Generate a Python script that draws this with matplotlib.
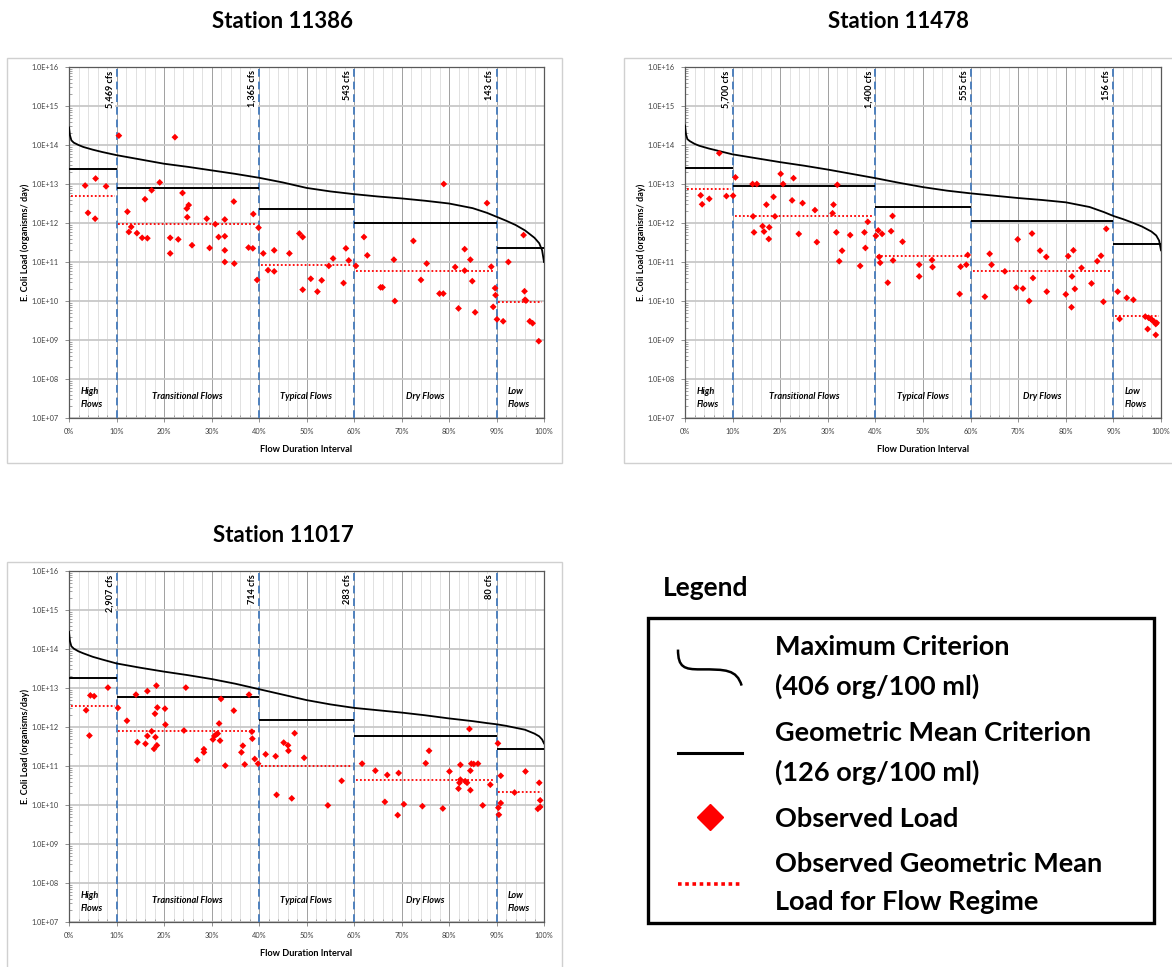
import numpy as np
import matplotlib
matplotlib.use('Agg')
import matplotlib.pyplot as plt
from matplotlib.legend_handler import HandlerBase
from matplotlib.lines import Line2D
from matplotlib.patches import PathPatch, Rectangle
from matplotlib.path import Path
from matplotlib.ticker import FixedLocator, FuncFormatter, LogLocator, MultipleLocator, NullFormatter

plt.rcParams['font.family'] = ['Lato', 'DejaVu Sans']

W, H = 1172, 967

# flow regimes (percent of time flow is exceeded)
regime_edges = [0, 10, 40, 60, 90, 100]
regime_names = ['High\nFlows', 'Transitional Flows', 'Typical Flows', 'Dry Flows', 'Low\nFlows']

# points where the maximum criterion curve was read (flow duration %)
curve_pct = [0, 0.2, 0.5, 1, 2, 3, 5, 7, 10, 15, 20, 25, 30, 35, 40, 45, 50, 55, 60,
             65, 70, 75, 80, 85, 88, 90, 92, 94, 96, 98, 99, 99.6, 100]

# ---- Station 11386 (loads as log10 organisms/day)
s11386_curve = [14.45, 14.25, 14.12, 14.06, 14.00, 13.95, 13.88, 13.82, 13.74, 13.63, 13.52,
                13.44, 13.35, 13.26, 13.16, 13.04, 12.90, 12.81, 12.74, 12.68, 12.63, 12.57,
                12.50, 12.38, 12.26, 12.16, 12.06, 11.95, 11.81, 11.62, 11.48, 11.30, 11.00]
s11386_gm_crit = [13.38, 12.91, 12.37, 11.99, 11.37]
s11386_obs_gm = [12.68, 11.97, 10.93, 10.77, 9.98]
s11386_cfs = ['5,469 cfs', '1,365 cfs', '543 cfs', '143 cfs']
s11386_pct = [3.4, 4.0, 5.6, 5.5, 7.8, 10.5, 12.3, 12.6, 13.1, 14.3,
              15.4, 16.0, 16.5, 17.4, 19.1, 21.3, 21.3, 22.3, 23.0, 23.9,
              24.8, 25.2, 24.9, 25.9, 29.0, 29.6, 30.8, 31.5, 32.8, 32.8,
              32.8, 32.8, 34.7, 34.8, 37.8, 38.7, 38.8, 39.6, 39.9, 40.9,
              41.9, 43.2, 43.2, 46.4, 48.5, 49.2, 49.2, 50.9, 52.3, 53.2,
              54.7, 55.6, 57.8, 58.3, 58.9, 60.4, 62.1, 62.8, 65.6, 66.0,
              68.4, 68.6, 72.5, 74.1, 75.3, 78.0, 78.8, 78.9, 81.3, 82.0,
              83.3, 83.3, 84.5, 84.9, 85.5, 88.0, 88.9, 89.3, 89.7, 89.8,
              90.1, 91.4, 92.5, 95.7, 95.9, 96.0, 96.2, 97.0, 97.6, 98.9]
s11386_load = [12.96, 12.26, 13.14, 12.11, 12.94, 14.24, 12.29, 11.77, 11.90, 11.74,
               11.62, 12.61, 11.61, 12.84, 13.04, 11.62, 11.22, 14.20, 11.58, 12.77,
               12.37, 12.46, 12.15, 11.43, 12.11, 11.36, 11.97, 11.64, 11.66, 12.09,
               11.30, 11.00, 12.55, 10.96, 11.37, 11.35, 12.23, 10.54, 11.88, 11.22,
               10.79, 11.30, 10.76, 11.22, 11.73, 11.64, 10.29, 10.57, 10.24, 10.53,
               10.90, 11.09, 10.46, 11.35, 11.04, 10.90, 11.64, 11.17, 10.35, 10.35,
               11.06, 10.00, 11.54, 10.54, 10.96, 10.19, 10.19, 13.00, 10.87, 9.81,
               11.33, 10.78, 11.06, 10.51, 9.71, 12.51, 10.88, 9.85, 10.33, 10.15,
               9.53, 9.48, 11.00, 11.69, 10.25, 10.03, 10.01, 9.48, 9.43, 8.97]

# ---- Station 11478
s11478_curve = [14.50, 14.28, 14.15, 14.10, 14.03, 13.98, 13.91, 13.85, 13.76, 13.66, 13.56,
                13.47, 13.37, 13.26, 13.15, 13.03, 12.92, 12.83, 12.76, 12.70, 12.64, 12.59,
                12.53, 12.41, 12.28, 12.18, 12.10, 12.01, 11.91, 11.78, 11.68, 11.55, 11.30]
s11478_gm_crit = [13.40, 12.94, 12.40, 12.04, 11.46]
s11478_obs_gm = [12.86, 12.17, 11.16, 10.76, 9.62]
s11478_cfs = ['5,700 cfs', '1,400 cfs', '555 cfs', '156 cfs']
s11478_pct = [3.3, 3.6, 5.1, 7.2, 8.7, 10.1, 10.6, 14.2, 15.1, 14.3,
              14.5, 16.3, 16.6, 17.7, 17.6, 17.1, 18.6, 18.9, 20.1, 20.6,
              22.5, 22.8, 23.9, 24.7, 27.3, 27.7, 31.0, 31.2, 31.8, 32.0,
              32.4, 33.0, 34.7, 36.8, 37.7, 37.9, 38.4, 40.1, 40.6, 40.8,
              41.0, 41.4, 42.6, 43.3, 43.6, 43.7, 45.7, 49.2, 49.2, 51.9,
              52.0, 57.7, 57.9, 59.1, 59.4, 63.0, 64.0, 64.4, 67.2, 69.6,
              69.9, 71.0, 72.3, 72.9, 73.1, 74.6, 75.9, 76.0, 80.0, 80.5,
              81.2, 81.3, 81.6, 81.9, 83.3, 85.4, 86.6, 87.4, 87.9, 88.5,
              90.9, 91.3, 92.8, 94.2, 96.7, 97.2, 97.4, 97.9, 98.2, 98.5,
              98.9, 98.9, 99.1]
s11478_load = [12.71, 12.48, 12.62, 13.79, 12.69, 12.70, 13.17, 13.00, 13.00, 12.17,
               11.76, 11.92, 11.78, 11.89, 11.59, 12.47, 12.67, 12.17, 13.26, 13.00,
               12.58, 13.15, 11.72, 12.51, 12.33, 11.51, 12.25, 12.47, 11.76, 12.98,
               11.02, 11.29, 11.69, 10.90, 11.76, 11.36, 12.03, 11.67, 11.81, 11.13,
               10.98, 11.72, 10.47, 11.79, 12.18, 11.04, 11.52, 10.93, 10.63, 11.05,
               10.87, 10.18, 10.88, 10.93, 11.18, 10.11, 11.21, 10.93, 10.76, 10.34,
               11.58, 10.32, 10.00, 11.73, 10.59, 11.29, 11.13, 10.24, 10.17, 11.15,
               9.84, 10.63, 11.30, 10.31, 10.85, 10.45, 11.02, 11.16, 9.98, 11.85,
               10.24, 9.54, 10.08, 10.03, 9.60, 9.28, 9.57, 9.54, 9.50, 9.48,
               9.41, 9.13, 9.44]

# ---- Station 11017
s11017_curve = [14.44, 14.20, 14.07, 14.01, 13.94, 13.89, 13.80, 13.73, 13.63, 13.52, 13.42,
                13.33, 13.23, 13.11, 12.97, 12.83, 12.69, 12.58, 12.49, 12.43, 12.37, 12.30,
                12.22, 12.15, 12.10, 12.07, 12.03, 11.98, 11.93, 11.83, 11.76, 11.68, 11.58]
s11017_gm_crit = [13.26, 12.78, 12.19, 11.77, 11.43]
s11017_obs_gm = [12.55, 11.90, 11.00, 10.65, 10.34]
s11017_cfs = ['2,907 cfs', '714 cfs', '283 cfs', '80 cfs']
s11017_pct = [3.6, 4.3, 4.5, 5.3, 8.2, 10.3, 12.2, 14.1, 14.4, 16.1,
              16.5, 16.5, 17.4, 18.1, 18.2, 17.9, 18.4, 18.6, 18.5, 20.2,
              20.3, 24.2, 24.6, 27.0, 28.4, 28.4, 30.3, 30.6, 31.0, 31.3,
              31.6, 31.8, 32.0, 32.9, 34.7, 36.3, 36.6, 37.0, 37.9, 38.5,
              38.6, 39.1, 39.8, 41.4, 43.5, 43.7, 45.2, 46.1, 46.2, 46.9,
              47.5, 49.5, 54.5, 57.4, 61.7, 64.5, 66.5, 67.0, 69.2, 69.4,
              70.5, 74.4, 75.1, 75.8, 78.7, 80.1, 82.0, 82.2, 82.4, 82.4,
              83.4, 83.8, 84.3, 84.5, 84.5, 84.7, 85.2, 86.1, 87.1, 88.7,
              90.3, 90.4, 90.5, 90.9, 90.9, 93.8, 96.1, 99.0, 98.7, 99.2,
              99.2]
s11017_load = [12.43, 11.78, 12.81, 12.79, 13.01, 12.49, 12.16, 12.83, 11.61, 11.57,
               12.92, 11.77, 11.89, 12.34, 11.74, 11.44, 13.06, 12.50, 11.53, 12.47,
               12.06, 11.91, 13.01, 11.15, 11.43, 11.35, 11.68, 11.77, 11.81, 11.83,
               12.09, 11.65, 12.72, 11.01, 12.42, 11.35, 11.52, 11.04, 12.83, 11.88,
               11.70, 11.18, 11.06, 11.30, 11.25, 10.26, 11.60, 11.53, 11.39, 10.17,
               11.84, 11.21, 9.99, 10.62, 11.06, 10.88, 10.08, 10.77, 9.74, 10.82,
               10.02, 9.97, 11.07, 11.39, 9.91, 10.86, 10.42, 10.57, 10.65, 11.03,
               10.61, 10.57, 11.95, 10.88, 10.38, 11.06, 11.05, 11.06, 9.99, 10.52,
               11.58, 9.93, 9.75, 10.05, 10.75, 10.32, 10.86, 10.57, 9.90, 10.12,
               9.95]

BLUE = '#4F81BD'
GRAY_TXT = '#404040'


def add_px_axes(fig, left, top, right, bottom):
    """Ejes ubicados con coordenadas en pixeles (origen arriba a la izquierda)."""
    return fig.add_axes([left / W, 1 - bottom / H, (right - left) / W, (bottom - top) / H])


def draw_station(ax, curve, gm_crit, obs_gm, cfs, pct, load, ylabel):
    ax.set_yscale('log')
    ax.set_xlim(0, 100)
    ax.set_ylim(1e7, 1e16)

    # grid
    ax.xaxis.set_major_locator(MultipleLocator(10))
    ax.xaxis.set_minor_locator(MultipleLocator(2))
    ax.yaxis.set_major_locator(FixedLocator([10.0 ** k for k in range(7, 17)]))
    ax.yaxis.set_minor_locator(LogLocator(base=10, subs=np.arange(2, 10), numticks=20))
    ax.yaxis.set_minor_formatter(NullFormatter())
    ax.grid(axis='y', which='major', color='#C8C8C8', lw=1.3, zorder=0)
    ax.grid(axis='x', which='major', color='#A0A0A0', lw=0.7, zorder=0)
    ax.grid(axis='x', which='minor', color='#DCDCDC', lw=0.6, zorder=0)
    ax.set_axisbelow(True)

    ax.xaxis.set_major_formatter(FuncFormatter(lambda v, _: f'{int(round(v))}%'))
    ax.yaxis.set_major_formatter(FuncFormatter(lambda v, _: f'1.0E+{int(round(np.log10(v))):02d}'))
    ax.tick_params(axis='both', which='major', direction='out', length=3, width=0.6,
                   labelsize=5.3, labelcolor=GRAY_TXT, color='#7F7F7F', pad=4.5)
    ax.tick_params(axis='both', which='minor', direction='in', length=2, width=0.5,
                   color='#7F7F7F')
    for sp in ax.spines.values():
        sp.set_color('#595959')
        sp.set_linewidth(0.9)

    # max criterion (flow duration curve)
    ax.plot(curve_pct, 10.0 ** np.array(curve), color='black', lw=1.3, zorder=4)

    # geometric mean criterion + observed geometric mean per regime
    for i in range(5):
        lo, hi = regime_edges[i], regime_edges[i + 1]
        ax.hlines(10.0 ** gm_crit[i], lo, hi, color='black', lw=1.4, zorder=4)
        ax.hlines(10.0 ** obs_gm[i], lo + 0.4, hi - 0.4, color='red', lw=1.3,
                  linestyles=(0, (1, 1.2)), zorder=4)

    # observed loads
    ax.scatter(pct, 10.0 ** np.array(load), marker='D', s=12, color='red',
               edgecolors='none', zorder=5)

    # regime boundaries with flow labels
    for x, lab in zip(regime_edges[1:-1], cfs):
        ax.axvline(x, color=BLUE, lw=1.4, ls=(0, (4, 2.5)), zorder=3)
        ax.annotate(lab, xy=(x, 1), xycoords=('data', 'axes fraction'),
                    xytext=(-1.5, -2.5), textcoords='offset points',
                    rotation=90, ha='right', va='top', fontsize=6.6, fontweight='bold',
                    bbox=dict(facecolor='white', edgecolor='none', pad=0.6), zorder=6)

    # regime names
    for i, name in enumerate(regime_names):
        lo, hi = regime_edges[i], regime_edges[i + 1]
        if '\n' in name:
            ax.text(lo + 2.4, 10 ** 7.51, name, ha='left', va='center', fontsize=6.6,
                    fontweight='bold', fontstyle='italic', linespacing=1.6)
        else:
            ax.text((lo + hi) / 2, 10 ** 7.54, name, ha='center', va='center',
                    fontsize=6.6, fontweight='bold', fontstyle='italic')

    ax.set_xlabel('Flow Duration Interval', fontsize=6.6, fontweight='bold')
    ax.set_ylabel(ylabel, fontsize=6.6, fontweight='bold')
    ax.xaxis.set_label_coords(0.5, -0.078)
    ax.yaxis.set_label_coords(-0.082, 0.5)


class HookHandler(HandlerBase):
    """Dibuja el simbolo en forma de curva para el criterio maximo."""

    def create_artists(self, legend, orig_handle, xdescent, ydescent, width, height,
                       fontsize, trans):
        x0, y0 = -xdescent, -ydescent
        h = height * 1.9
        yb = y0 + height / 2 - h / 2
        verts = [(0.0, 1.0), (0.0, 0.5), (0.1, 0.45), (0.35, 0.45),
                 (0.75, 0.45), (0.92, 0.45), (1.0, 0.0)]
        verts = [(x0 + vx * width, yb + vy * h) for vx, vy in verts]
        codes = [Path.MOVETO] + [Path.CURVE4] * 6
        patch = PathPatch(Path(verts, codes), fill=False, edgecolor=orig_handle.get_color(),
                          lw=orig_handle.get_linewidth(), transform=trans)
        return [patch]


fig = plt.figure(figsize=(W / 100, H / 100), dpi=100)

# chart-area frames
for (l, t, r, b) in [(7, 58, 562, 463), (624, 58, 1180, 463), (7, 562, 562, 980)]:
    fig.patches.append(Rectangle((l / W, 1 - b / H), (r - l) / W, (b - t) / H,
                                 transform=fig.transFigure, fill=False,
                                 edgecolor='#D0D0D0', lw=1.0))

ax1 = add_px_axes(fig, 69, 67, 544, 418)
ax2 = add_px_axes(fig, 685, 67, 1161, 418)
ax3 = add_px_axes(fig, 69, 571, 544, 922)

draw_station(ax1, s11386_curve, s11386_gm_crit, s11386_obs_gm, s11386_cfs,
             s11386_pct, s11386_load, 'E. Coli Load (organisms/ day)')
draw_station(ax2, s11478_curve, s11478_gm_crit, s11478_obs_gm, s11478_cfs,
             s11478_pct, s11478_load, 'E. Coli Load (organisms/ day)')
draw_station(ax3, s11017_curve, s11017_gm_crit, s11017_obs_gm, s11017_cfs,
             s11017_pct, s11017_load, 'E. Coli Load (organisms/day)')

title_kw = dict(ha='center', va='center', fontsize=16, fontweight='bold')
fig.text(283 / W, 1 - 21 / H, 'Station 11386', **title_kw)
fig.text(898 / W, 1 - 21 / H, 'Station 11478', **title_kw)
fig.text(283 / W, 1 - 535 / H, 'Station 11017', **title_kw)

# legend: title outside, frame drawn on its own
fig.text(663 / W, 1 - 588 / H, 'Legend', ha='left', va='center', fontsize=19,
         fontweight='bold')
fig.patches.append(Rectangle((648 / W, 1 - 923 / H), (1154 - 648) / W, (923 - 618) / H,
                             transform=fig.transFigure, fill=False,
                             edgecolor='black', lw=2.4))

h_max = Line2D([], [], color='black', lw=1.8)
h_gm = Line2D([], [], color='black', lw=2.2)
h_obs = Line2D([], [], color='red', marker='D', ls='none', markersize=13)
h_obsgm = Line2D([], [], color='red', lw=2.6, ls=(0, (1, 1)))
labels = ['Maximum Criterion\n(406 org/100 ml)',
          'Geometric Mean Criterion\n(126 org/100 ml)',
          'Observed Load',
          'Observed Geometric Mean\nLoad for Flow Regime']
leg = fig.legend([h_max, h_gm, h_obs, h_obsgm], labels,
                 handler_map={h_max: HookHandler()},
                 loc='upper left', borderaxespad=0, borderpad=0,
                 bbox_to_anchor=(678 / W, 1 - 635 / H),
                 prop=dict(weight='bold', size=19.5), handlelength=2.35,
                 handletextpad=1.25, labelspacing=0.8, frameon=False)
for t in leg.get_texts():
    t.set_linespacing(1.7)

fig.savefig('out.png', dpi=100)
